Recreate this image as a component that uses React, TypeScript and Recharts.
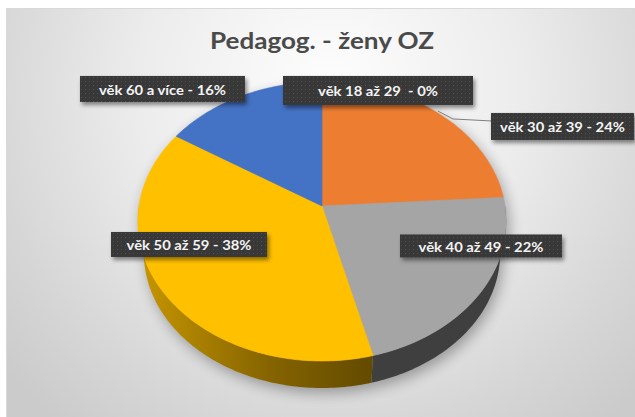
import React from 'react';
import { PieChart, Pie } from 'recharts';

// ---------- data ----------
const CATEGORIES = ['věk 18 až 29 ', 'věk 30 až 39', 'věk 40 až 49', 'věk 50 až 59', 'věk 60 a více'];
const SHARES = [0, 24, 22, 38, 16];
const COLORS = ['#5B9BD5', '#ED7D31', '#A5A5A5', '#FFC000', '#4472C4'];
const TITLE = 'Pedagog. - ženy OZ';

const data = CATEGORIES.map((name, i) => ({ name, value: SHARES[i] }));

// ---------- layout / style ----------
const W = 635;
const H = 417;
const CX = 322;
const CY = 206;
const R = 183;
const TILT = 0.753;
const PERSP = 0.111;
const BOT_SCALE = 0.9675;
const DEPTH = 32;
const FONT = 'Lato, "Open Sans", sans-serif';
const STRETCH = 1.14;

// label placement relative to the slice's rim point (style only)
const LABEL_LAYOUT = [
  { dx: 56, dy: 8.5, w: 190, h: 29, leader: false },
  { dx: 124.6, dy: 13.4, w: 143, h: 27, leader: true },
  { dx: 0.6, dy: -46.7, w: 162, h: 23, leader: false },
  { dx: 25.4, dy: -48.2, w: 156, h: 25, leader: false },
  { dx: -79.2, dy: -7, w: 165, h: 26, leader: false },
];

function shade(hex: string, f: number) {
  const n = parseInt(hex.slice(1), 16);
  const r = Math.round(((n >> 16) & 255) * f);
  const g = Math.round(((n >> 8) & 255) * f);
  const b = Math.round((n & 255) * f);
  return `rgb(${r},${g},${b})`;
}

function proj(cx: number, cy: number, r: number, deg: number, bottom = false): [number, number] {
  const a = (deg * Math.PI) / 180;
  const u = Math.cos(a);
  const v = -Math.sin(a);
  const w = 1 - PERSP * v;
  const s = bottom ? BOT_SCALE : 1;
  const dy = bottom ? DEPTH : 0;
  return [cx + (s * r * u) / w, cy + dy + (s * r * TILT * v) / w];
}

function arc(cx: number, cy: number, r: number, a0: number, a1: number, bottom = false) {
  const n = Math.max(2, Math.ceil(Math.abs(a1 - a0)));
  const pts: [number, number][] = [];
  for (let i = 0; i <= n; i++) {
    pts.push(proj(cx, cy, r, a0 + ((a1 - a0) * i) / n, bottom));
  }
  return pts;
}

const toD = (pts: [number, number][]) => pts.map((p, i) => `${i ? 'L' : 'M'}${p[0].toFixed(2)},${p[1].toFixed(2)}`).join(' ');

function topPath(p: any) {
  const pts = arc(p.cx, p.cy, p.outerRadius, p.startAngle, p.endAngle);
  return `M${p.cx},${p.cy} ${toD(pts).replace(/^M/, 'L')} Z`;
}

function bandPath(p: any) {
  const hi = Math.min(p.startAngle, 0);
  const lo = Math.max(p.endAngle, -180);
  if (hi - lo <= 0.01) return null;
  const top = arc(p.cx, p.cy, p.outerRadius, hi, lo);
  const bot = arc(p.cx, p.cy, p.outerRadius, lo, hi, true);
  return toD([...top, ...bot]) + ' Z';
}

const TopShape = (p: any) => {
  if (Math.abs(p.startAngle - p.endAngle) < 0.01) return <g />;
  const c = COLORS[p.index ?? 0];
  return <path d={topPath(p)} fill={c} stroke={c} strokeWidth={0.6} />;
};

const SideShape = (p: any) => {
  const d = bandPath(p);
  if (!d) return <g />;
  return <path d={d} fill={`url(#side-${p.index})`} stroke="none" />;
};

const ShadowShape = (p: any) => {
  if (Math.abs(p.startAngle - p.endAngle) < 0.01) return <g />;
  const d = bandPath(p);
  return (
    <g opacity={0.32} filter="url(#pieShadow)">
      <path d={topPath(p)} fill="#000" />
      {d && <path d={d} fill="#000" />}
    </g>
  );
};

const renderLabel = (p: any) => {
  const { cx, cy, outerRadius, midAngle, index, name, value } = p;
  const [ax, ay] = proj(cx, cy, outerRadius, midAngle);
  const L = LABEL_LAYOUT[index];
  const bx = ax + L.dx;
  const by = ay + L.dy;
  const left = bx - L.w / 2;
  return (
    <g key={`lbl-${index}`}>
      {L.leader && (
        <polyline
          points={`${ax},${ay - 2} ${left - 38},${by - 7.5} ${left},${by - 5.5}`}
          fill="none"
          stroke="#7f7f7f"
          strokeWidth={1}
        />
      )}
      <rect x={left} y={by - L.h / 2} width={L.w} height={L.h} fill="url(#dots)" filter="url(#boxShadow)" />
      <text
        transform={`translate(${bx},${by + 0.5}) scale(${STRETCH},1)`}
        textAnchor="middle"
        dominantBaseline="central"
        fill="#f4f4f4"
        fontFamily={FONT}
        fontWeight={700}
        fontSize={13}
        style={{ whiteSpace: 'pre' }}
      >
        {`${name} - ${value}%`}
      </text>
    </g>
  );
};

export default function App() {
  return (
    <div style={{ position: 'absolute', left: 0, top: 0, width: W, height: H }}>
      <svg width={W} height={H} style={{ position: 'absolute', left: 0, top: 0 }}>
        <defs>
          <radialGradient id="bg" gradientUnits="userSpaceOnUse" cx={330} cy={90} r={430}>
            <stop offset="0" stopColor="#fefefe" />
            <stop offset="0.45" stopColor="#ececec" />
            <stop offset="0.8" stopColor="#d6d6d6" />
            <stop offset="1" stopColor="#cbcbcb" />
          </radialGradient>
          {COLORS.map((c, i) => (
            <linearGradient key={i} id={`side-${i}`} gradientUnits="userSpaceOnUse" x1={CX - R} y1={0} x2={CX + 0.3 * R} y2={0}>
              <stop offset="0" stopColor={shade(c, 0.78)} />
              <stop offset="0.55" stopColor={shade(c, 0.52)} />
              <stop offset="1" stopColor={shade(c, 0.38)} />
            </linearGradient>
          ))}
          <pattern id="dots" width="4" height="4" patternUnits="userSpaceOnUse">
            <rect width="4" height="4" fill="#383838" />
            <rect x="1" y="1" width="1" height="1" fill="#505050" />
          </pattern>
          <filter id="boxShadow" x="-20%" y="-40%" width="140%" height="190%">
            <feDropShadow dx="2" dy="3" stdDeviation="2" floodColor="#000" floodOpacity="0.45" />
          </filter>
          <filter id="pieShadow" x="-20%" y="-20%" width="140%" height="140%">
            <feOffset dx="3" dy="5" />
            <feGaussianBlur stdDeviation="7" />
          </filter>
        </defs>
        <rect x={0} y={0} width={W} height={H} fill="#ffffff" />
        <rect x={6.5} y={8.5} width={W} height={H} fill="url(#bg)" stroke="#d9d9d9" strokeWidth={1} />
        <text
          transform={`translate(322,49) scale(1.11,1)`}
          textAnchor="middle"
          fill="#4a4a4a"
          fontFamily={FONT}
          fontWeight={700}
          fontSize={23.5}
        >
          {TITLE}
        </text>
      </svg>
      <div style={{ position: 'absolute', left: 0, top: 0 }}>
        <PieChart width={W} height={H} margin={{ top: 0, right: 0, bottom: 0, left: 0 }}>
          <Pie
            data={data}
            dataKey="value"
            nameKey="name"
            cx={CX}
            cy={CY}
            outerRadius={R}
            startAngle={90}
            endAngle={-270}
            stroke="none"
            isAnimationActive={false}
            shape={ShadowShape}
            inactiveShape={ShadowShape}
            activeShape={ShadowShape}
          />
          <Pie
            data={data}
            dataKey="value"
            nameKey="name"
            cx={CX}
            cy={CY}
            outerRadius={R}
            startAngle={90}
            endAngle={-270}
            stroke="none"
            isAnimationActive={false}
            shape={SideShape}
            inactiveShape={SideShape}
            activeShape={SideShape}
          />
          <Pie
            data={data}
            dataKey="value"
            nameKey="name"
            cx={CX}
            cy={CY}
            outerRadius={R}
            startAngle={90}
            endAngle={-270}
            stroke="none"
            isAnimationActive={false}
            shape={TopShape}
            inactiveShape={TopShape}
            activeShape={TopShape}
            label={renderLabel}
            labelLine={false}
          />
        </PieChart>
      </div>
    </div>
  );
}
